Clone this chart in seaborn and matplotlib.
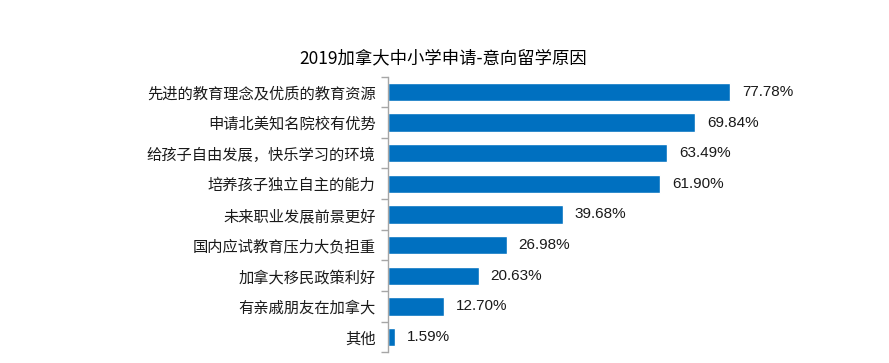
import matplotlib
matplotlib.use("Agg")
import matplotlib.pyplot as plt
import seaborn as sns
import pandas as pd
import numpy as np

reasons = [
    "先进的教育理念及优质的教育资源",
    "申请北美知名院校有优势",
    "给孩子自由发展，快乐学习的环境",
    "培养孩子独立自主的能力",
    "未来职业发展前景更好",
    "国内应试教育压力大负担重",
    "加拿大移民政策利好",
    "有亲戚朋友在加拿大",
    "其他",
]
shares = [77.78, 69.84, 63.49, 61.90, 39.68, 26.98, 20.63, 12.70, 1.59]
title = "2019加拿大中小学申请-意向留学原因"

df = pd.DataFrame({"reason": reasons, "share": shares})

sns.set_theme(style="white")
plt.rcParams["font.family"] = ["Noto Sans CJK SC", "DejaVu Sans"]

fig = plt.figure(figsize=(8.89, 3.63), dpi=100)
ax = fig.add_axes([0.4365, 0.0295, 0.495, 0.7595])

sns.barplot(data=df, x="share", y="reason", orient="h", color="#0070C0",
            width=0.6, saturation=1, ax=ax)

for i, v in enumerate(shares):
    ax.text(v + 2.6, i, f"{v:.2f}%", va="center", ha="left",
            fontsize=11, color="#1a1a1a", family=["Liberation Sans", "DejaVu Sans"])

ax.set_xlim(0, 100)
ax.set_ylim(len(reasons) - 0.5, -0.5)
ax.set_xlabel("")
ax.set_ylabel("")
ax.set_xticks([])
for s in ["top", "right", "bottom"]:
    ax.spines[s].set_visible(False)
ax.spines["left"].set_color("#a6a6a6")
ax.spines["left"].set_linewidth(1)

ax.set_yticks(np.arange(len(reasons)))
ax.set_yticklabels(reasons, fontsize=11, color="#1a1a1a")
ax.set_yticks(np.arange(len(reasons) + 1) - 0.5, minor=True)
ax.tick_params(axis="y", which="major", length=0, pad=9)
ax.tick_params(axis="y", which="minor", length=5, color="#a6a6a6", width=1, left=True)

fig.text(0.499, 0.84, title, ha="center", va="center", fontsize=12.5,
         fontweight="medium", color="#000000")

fig.savefig("out.png", dpi=100, facecolor="white")
